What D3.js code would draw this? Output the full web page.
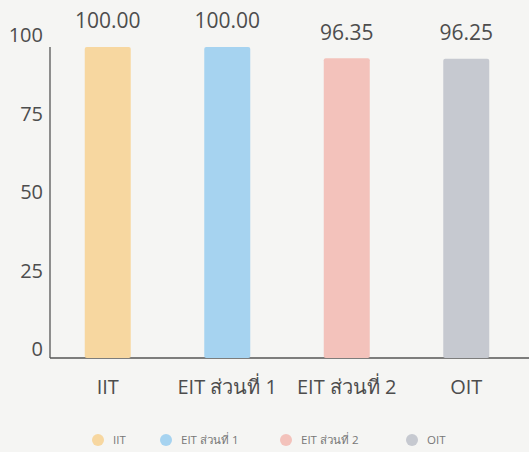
<!DOCTYPE html>
<html>
<head>
<meta charset="utf-8">
<script src="https://cdn.jsdelivr.net/npm/d3@7"></script>
<style>
  html, body { margin: 0; padding: 0; background: #f5f5f3; }
  svg { display: block; font-family: "Open Sans", "Noto Sans", sans-serif; }
</style>
</head>
<body>
<div id="chart"></div>
<script>
const categories = ['IIT', 'EIT ส่วนที่ 1', 'EIT ส่วนที่ 2', 'OIT']
const values = [100.00, 100.00, 96.35, 96.25]
const colors = ['#f7d7a0', '#a6d3f0', '#f3c2bb', '#c6c9d0']
const yTicks = [0, 25, 50, 75, 100]

const width = 529
const height = 452

const x = d3.scaleBand()
    .domain(categories)
    .range([48, 526])
    .padding(0)

const y = d3.scaleLinear()
    .domain([0, 100])
    .range([358, 47])

const barW = 46

const svg = d3.select('#chart')
    .append('svg')
    .attr('width', width)
    .attr('height', height)

// axis lines
svg.append('line')
    .attr('x1', 50).attr('x2', 50)
    .attr('y1', y(100)).attr('y2', y(0))
    .attr('stroke', '#555').attr('stroke-width', 1.3)

svg.append('line')
    .attr('x1', 50).attr('x2', width)
    .attr('y1', y(0)).attr('y2', y(0))
    .attr('stroke', '#555').attr('stroke-width', 1.3)

// y tick labels
svg.selectAll('.ytick')
    .data(yTicks)
    .enter().append('text')
    .attr('class', 'ytick')
    .attr('x', 43)
    .attr('y', d => y(d) - 12 + (100 - d) * 0.03)
    .attr('dy', '0.35em')
    .attr('text-anchor', 'end')
    .attr('fill', '#4d4d4d')
    .style('font-size', '20px')
    .text(d => d)

// bars
svg.selectAll('.bar')
    .data(values)
    .enter().append('rect')
    .attr('class', 'bar')
    .attr('x', (d, i) => x(categories[i]) + x.bandwidth() / 2 - barW / 2)
    .attr('y', d => y(d))
    .attr('width', barW)
    .attr('height', d => y(0) - y(d))
    .attr('rx', 2)
    .attr('fill', (d, i) => colors[i])

// value labels
svg.selectAll('.val')
    .data(values)
    .enter().append('text')
    .attr('class', 'val')
    .attr('x', (d, i) => x(categories[i]) + x.bandwidth() / 2)
    .attr('y', d => y(d) - 26)
    .attr('dy', '0.35em')
    .attr('text-anchor', 'middle')
    .attr('fill', '#4d4d4d')
    .style('font-size', '21px')
    .text(d => d.toFixed(2))

// category labels
svg.selectAll('.cat')
    .data(categories)
    .enter().append('text')
    .attr('class', 'cat')
    .attr('x', d => x(d) + x.bandwidth() / 2)
    .attr('y', 387)
    .attr('dy', '0.35em')
    .attr('text-anchor', 'middle')
    .attr('fill', '#4d4d4d')
    .style('font-size', '20px')
    .text(d => d)

// legend
const legendX = [98, 166, 286, 412]
const legend = svg.selectAll('.leg')
    .data(categories)
    .enter().append('g')
    .attr('class', 'leg')
    .attr('transform', (d, i) => 'translate(' + legendX[i] + ',440)')

legend.append('circle')
    .attr('r', 6)
    .attr('fill', (d, i) => colors[i])

legend.append('text')
    .attr('x', 15)
    .attr('dy', '0.35em')
    .attr('fill', '#777')
    .style('font-size', '11.5px')
    .text(d => d)
</script>
</body>
</html>
